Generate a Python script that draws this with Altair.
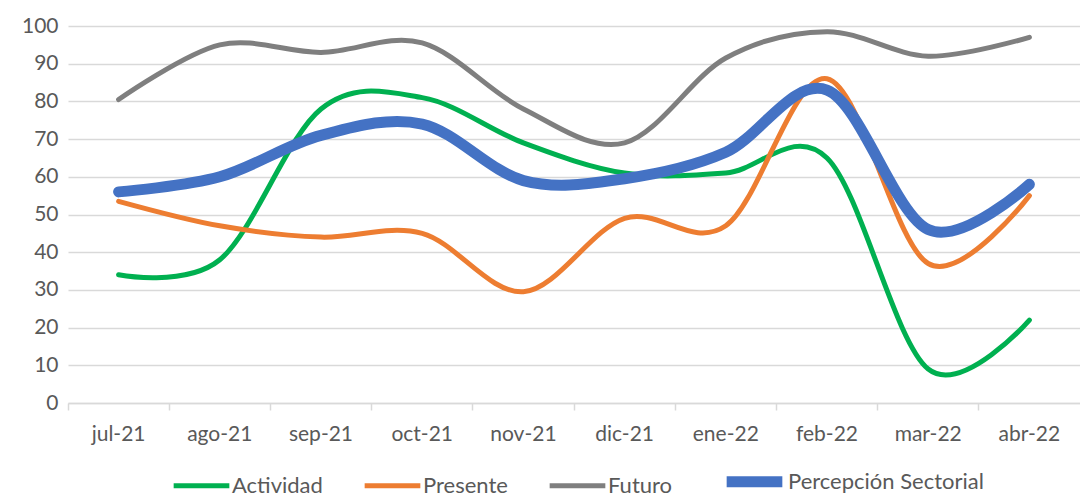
import altair as alt
import pandas as pd

meses = ["jul-21", "ago-21", "sep-21", "oct-21", "nov-21", "dic-21",
         "ene-22", "feb-22", "mar-22", "abr-22"]
actividad = [34, 38, 78, 81, 69, 61, 61, 65, 9, 22]
presente = [53.5, 47, 44, 45, 29.5, 49, 47, 86, 37, 55]
futuro = [80.5, 95, 93, 95.5, 78, 69, 91.5, 98.5, 92, 97]
percepcion = [56, 60, 71, 74, 59, 59.5, 66.5, 83, 46, 58]

series = ["Actividad", "Presente", "Futuro", "Percepción Sectorial"]
colores = ["#00B050", "#ED7D31", "#7F7F7F", "#4472C4"]
grosores = [5, 5, 5, 11]

rows = []
for nombre, vals in zip(series, [actividad, presente, futuro, percepcion]):
    for m, v in zip(meses, vals):
        rows.append({"mes": m, "valor": v, "serie": nombre})
df = pd.DataFrame(rows)

FONT = "Lato"
GRAY = "#595959"
GRID = "#D9D9D9"
FS = 21

leg = alt.Legend(title=None, orient="none", direction="horizontal",
                 legendX=103, legendY=422, symbolType="stroke",
                 symbolSize=3100, symbolStrokeWidth=7, labelFontSize=22, labelColor=GRAY,
                 labelFont=FONT, labelOffset=0, columnPadding=31, labelLimit=500)

chart = alt.Chart(df).mark_line(interpolate="cardinal", strokeCap="round", strokeJoin="round").encode(
    x=alt.X("mes:N", sort=meses, bandPosition=0.5,
            scale=alt.Scale(type="band", paddingInner=0, paddingOuter=0),
            axis=alt.Axis(title=None, labelAngle=0, labelFontSize=FS, labelColor=GRAY,
                          labelFont=FONT, labelPadding=13, domain=True, domainColor=GRID,
                          domainWidth=1.5, ticks=True, tickColor=GRID, tickWidth=1.5,
                          tickSize=7, bandPosition=0, grid=False)),
    y=alt.Y("valor:Q", scale=alt.Scale(domain=[0, 100], nice=False),
            axis=alt.Axis(title=None, values=list(range(0, 101, 10)), labelFontSize=FS,
                          labelColor=GRAY, labelFont=FONT, labelPadding=10, domain=False,
                          ticks=False, grid=True, gridColor=GRID, gridWidth=1.5,
                          minExtent=60, maxExtent=60)),
    color=alt.Color("serie:N", sort=series,
                    scale=alt.Scale(domain=series, range=colores),
                    legend=leg),
    strokeWidth=alt.StrokeWidth("serie:N", sort=series,
                                scale=alt.Scale(type="ordinal", domain=series, range=grosores),
                                legend=None),
).properties(
    width=1012, height=377,
    padding={"left": 0, "top": 7, "right": 0, "bottom": 0},
).configure_view(stroke=None)

chart.save("out.html", embed_options={"renderer": "svg", "actions": False})
